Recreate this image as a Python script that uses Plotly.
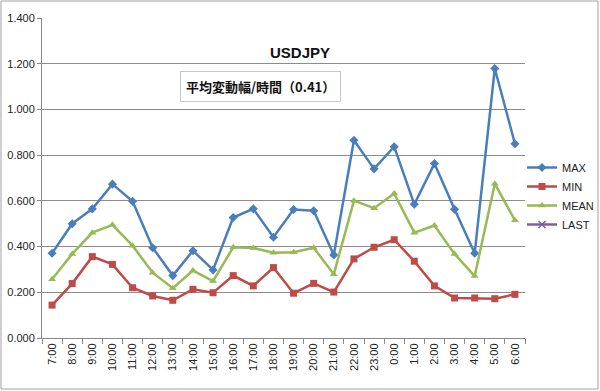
import plotly.graph_objects as go

hours = ["7:00","8:00","9:00","10:00","11:00","12:00","13:00","14:00","15:00","16:00",
         "17:00","18:00","19:00","20:00","21:00","22:00","23:00","0:00","1:00","2:00",
         "3:00","4:00","5:00","6:00"]
max_vals = [0.371,0.500,0.565,0.673,0.598,0.395,0.273,0.382,0.298,0.527,
            0.565,0.441,0.562,0.557,0.363,0.865,0.740,0.837,0.585,0.763,
            0.563,0.371,1.179,0.850]
min_vals = [0.144,0.238,0.356,0.322,0.220,0.184,0.165,0.213,0.198,0.273,
            0.228,0.308,0.196,0.239,0.201,0.346,0.397,0.430,0.336,0.228,
            0.175,0.175,0.172,0.191]
mean_vals = [0.257,0.368,0.461,0.495,0.404,0.286,0.218,0.295,0.249,0.397,
             0.394,0.373,0.375,0.395,0.279,0.601,0.568,0.632,0.461,0.492,
             0.368,0.271,0.675,0.515]
last_vals = [None]*len(hours)
y_ticks = [0.0,0.2,0.4,0.6,0.8,1.0,1.2,1.4]

W, H = 600, 391
L, R, T, B = 42, 75, 18, 53
pw, ph = W - L - R, H - T - B

def px(x):
    return (x - L) / pw

def py(y):
    return (H - B - y) / ph

fig = go.Figure()
fig.add_trace(go.Scatter(x=hours, y=max_vals, name="MAX", mode="lines+markers",
                         line=dict(color="#4A7EBB", width=2.5),
                         marker=dict(symbol="diamond", size=7, color="#4A7EBB")))
fig.add_trace(go.Scatter(x=hours, y=min_vals, name="MIN", mode="lines+markers",
                         line=dict(color="#BE4B48", width=2.5),
                         marker=dict(symbol="square", size=7, color="#BE4B48")))
fig.add_trace(go.Scatter(x=hours, y=mean_vals, name="MEAN", mode="lines+markers",
                         line=dict(color="#98B954", width=2.5),
                         marker=dict(symbol="triangle-up", size=7, color="#98B954")))
fig.add_trace(go.Scatter(x=hours, y=last_vals, name="LAST", mode="lines+markers",
                         line=dict(color="#7D60A0", width=2.5),
                         marker=dict(symbol="x-thin", size=7, color="#7D60A0",
                                     line=dict(color="#7D60A0", width=1.5))))

fig.update_layout(
    width=W, height=H,
    margin=dict(l=L, r=R, t=T, b=B, autoexpand=False),
    paper_bgcolor="white", plot_bgcolor="white",
    font=dict(family="Liberation Sans, Arial, sans-serif", size=11, color="#222"),
    showlegend=True,
    legend=dict(x=px(522), y=py(153), xanchor="left", yanchor="top",
                font=dict(size=11, color="#222"), bgcolor="rgba(0,0,0,0)",
                tracegroupgap=0, itemwidth=30),
    xaxis=dict(type="category", tickangle=-90, showgrid=False, automargin=False,
               range=[-0.5, len(hours) - 0.5],
               showline=True, linecolor="#888", linewidth=1,
               ticks="outside", tickson="boundaries", ticklen=5, tickcolor="#888",
               tickfont=dict(size=11)),
    yaxis=dict(range=[0, 1.4], tickvals=y_ticks, tickformat=".3f", automargin=False,
               showgrid=True, gridcolor="#8C8C8C", gridwidth=1,
               showline=True, linecolor="#888", linewidth=1,
               ticks="outside", ticklen=4, tickcolor="#888",
               zeroline=False, tickfont=dict(size=11)),
    shapes=[dict(type="rect", xref="paper", yref="paper",
                 x0=px(1), x1=px(598), y0=py(389), y1=py(1),
                 line=dict(color="#A0A0A0", width=1), fillcolor="rgba(0,0,0,0)")],
    annotations=[
        dict(text="<b>USDJPY</b>", xref="paper", yref="paper",
             x=px(300), y=py(42), showarrow=False,
             font=dict(size=15, color="#111", family="Liberation Sans, Arial, sans-serif")),
        dict(text="<b>平均変動幅/時間（0.41）</b>", xref="paper", yref="paper",
             x=px(260), y=py(71), showarrow=False,
             bordercolor="#C8C8C8", borderwidth=1, borderpad=5, bgcolor="white",
             font=dict(size=13, color="#111", family="Noto Sans CJK JP")),
    ],
)

fig.write_html("out.html", config={"displayModeBar": False},
               post_script="document.body.style.margin='0';")
